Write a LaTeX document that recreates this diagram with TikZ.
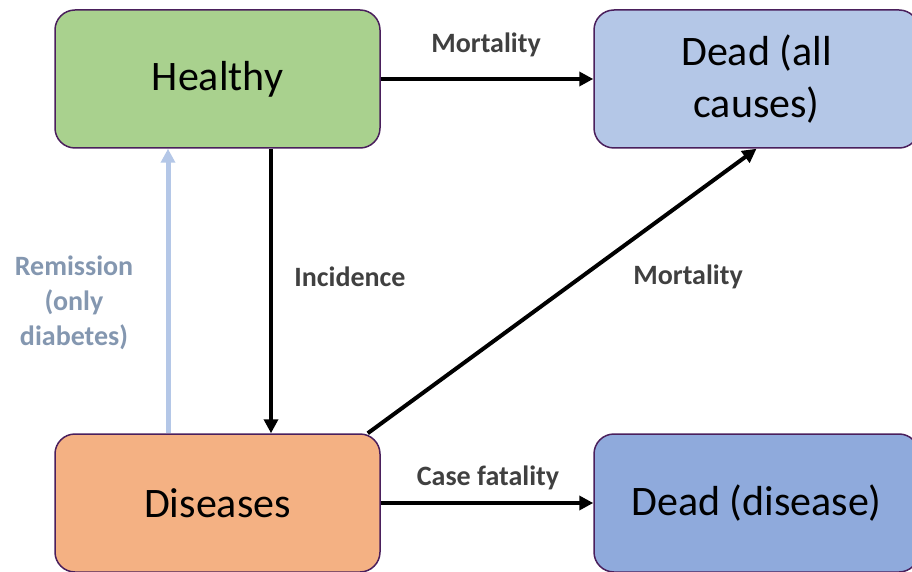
\documentclass[tikz,border=0pt]{standalone}
\usepackage{fontspec}
\setmainfont{Carlito}
\usepackage{xcolor}
\usetikzlibrary{arrows.meta,calc,positioning}
\definecolor{healthyfill}{HTML}{A9D18E}
\definecolor{diseasefill}{HTML}{F4B183}
\definecolor{deadallfill}{HTML}{B4C7E7}
\definecolor{deaddisfill}{HTML}{8FAADC}
\definecolor{boxline}{HTML}{4A1F5C}
\definecolor{labelgray}{HTML}{404040}
\definecolor{remitline}{HTML}{B4C7E7}
\definecolor{remittext}{HTML}{8497B0}

\begin{document}
\begin{tikzpicture}[x=1pt,y=1pt,
    state/.style={draw=boxline, line width=1.5pt, rounded corners=20pt,
        minimum width=325pt, minimum height=138pt, align=center,
        font=\fontsize{42}{52}\selectfont},
    flow/.style={line width=4pt, -{Triangle[length=14pt,width=14pt]}},
    rate/.style={font=\bfseries\fontsize{28}{35}\selectfont, text=labelgray, align=center}]
    \useasboundingbox (0,0) rectangle (912,571);

    % TOP: Healthy and all-cause death
    \node[state, fill=healthyfill] (hea) at (217.5,492) {Healthy};
    \node[state, fill=deadallfill] (dall) at (756.5,492) {Dead (all\\causes)};

    % BOTTOM: Diseases and disease death
    \node[state, fill=diseasefill] (dis) at (217.5,68) {Diseases};
    \node[state, fill=deaddisfill] (ddis) at (756.5,68) {Dead (disease)};

    % transitions
    \draw[flow] (hea.east) -- (dall.west);
    \draw[flow] ([xshift=53.5pt]hea.south) -- ([xshift=53.5pt]dis.north);
    \draw[flow, draw=remitline, line width=5pt] ([xshift=-49.5pt]dis.north) -- ([xshift=-49.5pt]hea.south);
    \draw[flow] ([xshift=-13pt]dis.north east) -- (dall.south);
    \draw[flow] (dis.east) -- (ddis.west);

    % rates
    \node[rate] (lmort) at (486,526) {Mortality};
    \node[rate] (linc) at (350,294) {Incidence};
    \node[rate] (lmortd) at (688,294) {Mortality};
    \node[rate, text=remittext] (lrem) at (74,268) {Remission\\(only\\diabetes)};
    \node[rate] (lcase) at (488,93) {Case fatality};
\end{tikzpicture}
\end{document}
